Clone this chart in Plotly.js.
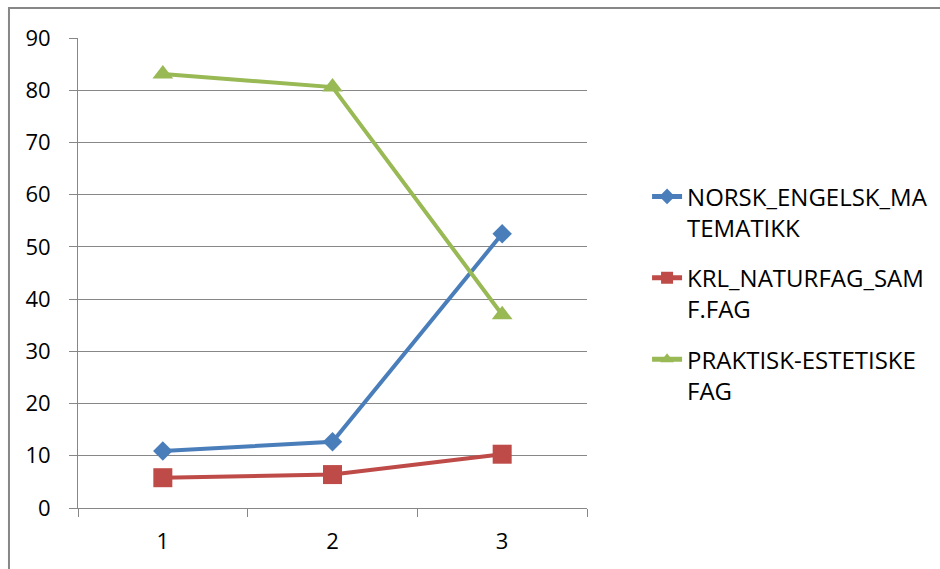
<!DOCTYPE html>
<html>
<head>
<meta charset="utf-8">
<script src="https://cdn.plot.ly/plotly-3.0.1.min.js"></script>
<style>html,body{margin:0;padding:0;background:#fff;}#chart{width:940px;height:569px;}</style>
</head>
<body>
<div id="chart"></div>
<script>
const categories = ['1', '2', '3'];
const seriesNames = ['NORSK_ENGELSK_MA<br>TEMATIKK', 'KRL_NATURFAG_SAM<br>F.FAG', 'PRAKTISK-ESTETISKE<br>FAG'];
const norskEngelskMatematikk = [10.9, 12.7, 52.5];
const krlNaturfagSamfag = [5.8, 6.4, 10.3];
const praktiskEstetiskeFag = [83.1, 80.6, 37.0];
const yTicks = [0, 10, 20, 30, 40, 50, 60, 70, 80, 90];

const colors = ['#4A7EBB', '#BE4B48', '#98B954'];
const symbols = ['diamond', 'square', 'triangle-up'];
const sizes = [15, 19, 18];
const values = [norskEngelskMatematikk, krlNaturfagSamfag, praktiskEstetiskeFag];

const traces = values.map((v, i) => ({
  type: 'scatter', mode: 'lines+markers',
  x: categories, y: v, name: seriesNames[i], legendgroup: 'g' + i,
  line: {color: colors[i], width: 4},
  marker: {color: colors[i], symbol: symbols[i], size: sizes[i]},
  cliponaxis: false
}));

const fontFam = 'Open Sans, Liberation Sans, sans-serif';
const layout = {
  width: 940, height: 569,
  margin: {l: 78, r: 353, t: 38, b: 61, autoexpand: false},
  paper_bgcolor: '#fff', plot_bgcolor: '#fff',
  font: {family: fontFam, size: 22, color: '#000'},
  showlegend: true,
  legend: {x: 1.118, y: 0.71, xanchor: 'left', yanchor: 'top', valign: 'top',
           font: {family: fontFam, size: 24, color: '#000'}, tracegroupgap: 16, itemsizing: 'constant'},
  xaxis: {type: 'category', categoryorder: 'array', categoryarray: categories, range: [-0.5, 2.5],
          tickson: 'boundaries', ticks: 'outside', ticklen: 8, tickcolor: '#878787',
          showgrid: false, showline: true, linecolor: '#878787', linewidth: 1,
          zeroline: false, tickfont: {size: 22}, ticklabelstandoff: 14},
  yaxis: {range: [0, 90], tickvals: yTicks, ticks: 'outside', ticklen: 8, tickcolor: '#878787',
          showgrid: true, gridcolor: '#878787', gridwidth: 1, showline: true, linecolor: '#878787',
          zeroline: false, tickfont: {size: 22}, ticklabelstandoff: 14},
  shapes: [{type: 'rect', xref: 'paper', yref: 'paper',
            x0: -0.1356, x1: 1.75, y0: -0.16, y1: 1.0638,
            line: {color: '#878787', width: 2}, fillcolor: 'rgba(0,0,0,0)', layer: 'below'}]
};

Plotly.newPlot('chart', traces, layout, {displayModeBar: false, staticPlot: true});
</script>
</body>
</html>
